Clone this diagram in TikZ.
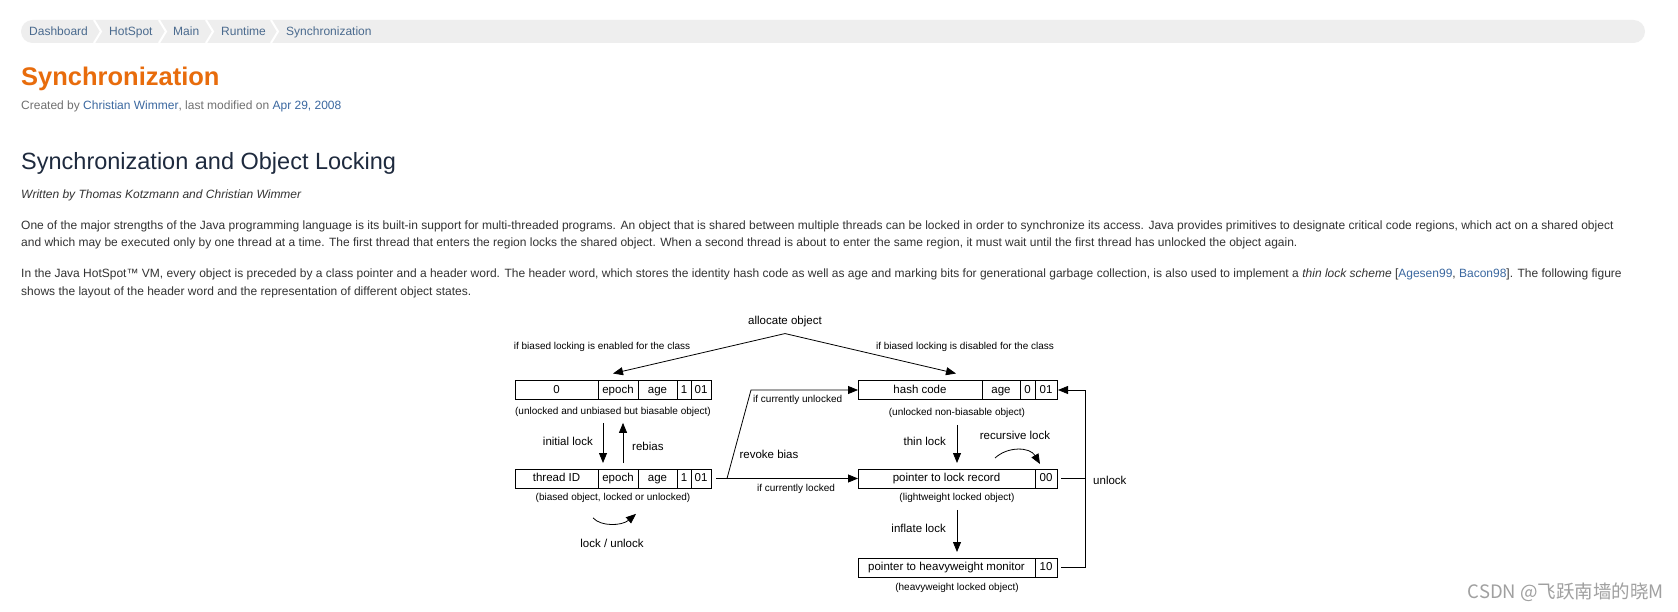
\documentclass[tikz,border=0pt]{standalone}
\usepackage{fontspec}
\setmainfont{Liberation Sans}
\newfontfamily\cjkfont{Noto Sans CJK SC}
\usetikzlibrary{arrows.meta,positioning}

\newcommand{\fs}[1]{\fontsize{#1}{#1}\selectfont}
\definecolor{crumbbg}{HTML}{EEEEEE}
\definecolor{crumbtext}{HTML}{4A6A8E}
\definecolor{titleorange}{HTML}{E86C0C}
\definecolor{metagray}{HTML}{707070}
\definecolor{linkblue}{HTML}{3B68A0}
\definecolor{headnavy}{HTML}{1E2A3E}
\definecolor{bodytext}{HTML}{333333}
\definecolor{markgray}{HTML}{A0A0A0}

\tikzset{
  txt/.style={anchor=base west, inner sep=0pt, text=bodytext, font=\fs{12}},
  field/.style={draw, line width=0.8pt, minimum height=19pt, inner sep=0pt, outer sep=0pt,
    text height=8.5pt, text depth=2.5pt, font=\fs{11.5}},
  note/.style={inner sep=0pt, font=\fs{10}},
  lbl/.style={inner sep=0pt, font=\fs{11.5}},
  tip/.style={line width=0.8pt, -{Triangle[length=10pt,width=8pt]}},
}

\begin{document}
\begin{tikzpicture}[x=1pt,y=-1pt]
\useasboundingbox[fill=white] (0,0) rectangle (1678,612);

% breadcrumb bar
\fill[crumbbg, rounded corners=11.5pt] (21,20) rectangle (1645,43);
\foreach \x in {94,159,206,271}
  \draw[white, line width=2pt] (\x,20) -- (\x+7,31.5) -- (\x,43);
\node[txt, text=crumbtext] (bcdash) at (29,36) {Dashboard};
\node[txt, text=crumbtext] (bchot) at (109,36) {HotSpot};
\node[txt, text=crumbtext] (bcmain) at (173,36) {Main};
\node[txt, text=crumbtext] (bcrun) at (221,36) {Runtime};
\node[txt, text=crumbtext] (bcsync) at (286,36) {Synchronization};

% page head
\node[txt, text=titleorange, font=\fs{25.5}\bfseries] (title) at (21,86) {Synchronization};
\node[txt, text=metagray] (meta) at (21,110) {Created by \textcolor{linkblue}{Christian Wimmer}, last modified on \textcolor{linkblue}{Apr 29, 2008}};
\node[txt, text=headnavy, font=\fs{23.5}] (heading) at (21,170) {Synchronization and Object Locking};
\node[txt, font=\fs{12}\itshape] (byline) at (21,199) {Written by Thomas Kotzmann and Christian Wimmer};

% body text
\node[txt] (p1a) at (21,230) {One of the major strengths of the Java programming language is its built-in support for multi-threaded programs. An object that is shared between multiple threads can be locked in order to synchronize its access. Java provides primitives to designate critical code regions, which act on a shared object};
\node[txt] (p1b) at (21,247) {and which may be executed only by one thread at a time. The first thread that enters the region locks the shared object. When a second thread is about to enter the same region, it must wait until the first thread has unlocked the object again.};
\node[txt] (p2a) at (21,277) {In the Java HotSpot™ VM, every object is preceded by a class pointer and a header word. The header word, which stores the identity hash code as well as age and marking bits for generational garbage collection, is also used to implement a \textit{thin lock scheme} [\textcolor{linkblue}{Agesen99}, \textcolor{linkblue}{Bacon98}]. The following figure};
\node[txt] (p2b) at (21,295) {shows the layout of the header word and the representation of different object states.};

% figure: header word states
\node[lbl] (alloc) at (785,322) {allocate object};
\coordinate (apex) at ([yshift=-6pt]alloc.south);
\node[note] at (602,347) {if biased locking is enabled for the class};
\node[note] at (965,347) {if biased locking is disabled for the class};

% biasable, unbiased
\node[field, anchor=west, minimum width=83pt] (a0) at (515,390) {0};
\node[field, minimum width=40pt, right=0pt of a0] (aep) {epoch};
\node[field, minimum width=39pt, right=0pt of aep] (aage) {age};
\node[field, minimum width=14pt, right=0pt of aage] (a1) {1};
\node[field, minimum width=20pt, right=0pt of a1] (a01) {01};
\node[note] (capA) at (613,412) {(unlocked and unbiased but biasable object)};

% biased
\node[field, anchor=west, minimum width=83pt] (b0) at (515,478.5) {thread ID};
\node[field, minimum width=40pt, right=0pt of b0] (bep) {epoch};
\node[field, minimum width=39pt, right=0pt of bep] (bage) {age};
\node[field, minimum width=14pt, right=0pt of bage] (b1) {1};
\node[field, minimum width=20pt, right=0pt of b1] (b01) {01};
\node[note] (capB) at (613,498) {(biased object, locked or unlocked)};

% non-biasable
\node[field, anchor=west, minimum width=124pt] (chash) at (858,390) {hash code};
\node[field, minimum width=38pt, right=0pt of chash] (cage) {age};
\node[field, minimum width=15pt, right=0pt of cage] (c0) {0};
\node[field, minimum width=22pt, right=0pt of c0] (c01) {01};
\node[note] (capC) at (957,413) {(unlocked non-biasable object)};

% thin locked
\node[field, anchor=west, minimum width=177pt] (dptr) at (858,478.5) {pointer to lock record};
\node[field, minimum width=22pt, right=0pt of dptr] (d00) {00};
\node[note] (capD) at (957,498) {(lightweight locked object)};

% inflated
\node[field, anchor=west, minimum width=177pt] (eptr) at (858,567.5) {pointer to heavyweight monitor};
\node[field, minimum width=22pt, right=0pt of eptr] (e10) {10};
\node[note] (capE) at (957,588) {(heavyweight locked object)};

% transitions
\draw[tip] (apex) -- ([xshift=-5pt,yshift=7pt]aep.north);
\draw[tip] (apex) -- ([xshift=36pt,yshift=7pt]chash.north);

\draw[tip, shorten <=6pt, shorten >=6pt] ([xshift=-10pt]capA.south) -- ([xshift=-10pt]capA.south |- b0.north);
\draw[tip, shorten <=6pt, shorten >=6pt] ([xshift=10pt]capA.south |- b0.north) -- ([xshift=10pt]capA.south);
\node[lbl, anchor=east] at (593,441) {initial lock};
\node[lbl, anchor=west] at (632,446) {rebias};

\draw[tip] ([xshift=-20pt,yshift=-15pt]capB.south) .. controls +(8,9) and +(-14,12) .. ([xshift=23pt,yshift=-11pt]capB.south);
\node[lbl] at (612,543) {lock / unlock};

\draw[tip] ([xshift=5pt]b01.east) -- (dptr.west);
\draw[tip] ([xshift=16pt]b01.east) -- ([xshift=40pt]b01.east |- chash.west) -- (chash.west);
\node[note, anchor=west] at (753,400) {if currently unlocked};
\node[lbl] at (769,454) {revoke bias};
\node[note] at (796,489) {if currently locked};

\draw[tip, shorten <=7pt, shorten >=6pt] (capC.south) -- (capC.south |- dptr.north);
\node[lbl, anchor=east] at (946,441) {thin lock};
\draw[tip] ([xshift=-51pt,yshift=11pt]d00.north) .. controls +(13,-12) and +(-10,-17) .. ([xshift=-6pt,yshift=5pt]d00.north);
\node[lbl] at (1015,435) {recursive lock};

\draw[tip, shorten <=7pt, shorten >=6pt] (capD.south) -- (capD.south |- eptr.north);
\node[lbl, anchor=east] at (946,528) {inflate lock};

\draw[line width=0.8pt] ([xshift=4pt]d00.east) -- ([xshift=28pt]d00.east);
\draw[tip] ([xshift=4pt]e10.east) -- ([xshift=28pt]e10.east) |- ([xshift=1pt]c01.east);
\node[lbl, anchor=west] at (1093,480) {unlock};

% watermark
\node[anchor=base east, inner sep=0pt, text=markgray, font=\cjkfont\fs{18.5}] (mark) at (1664,598) {CSDN @飞跃南墙的晓M};
\end{tikzpicture}
\end{document}
